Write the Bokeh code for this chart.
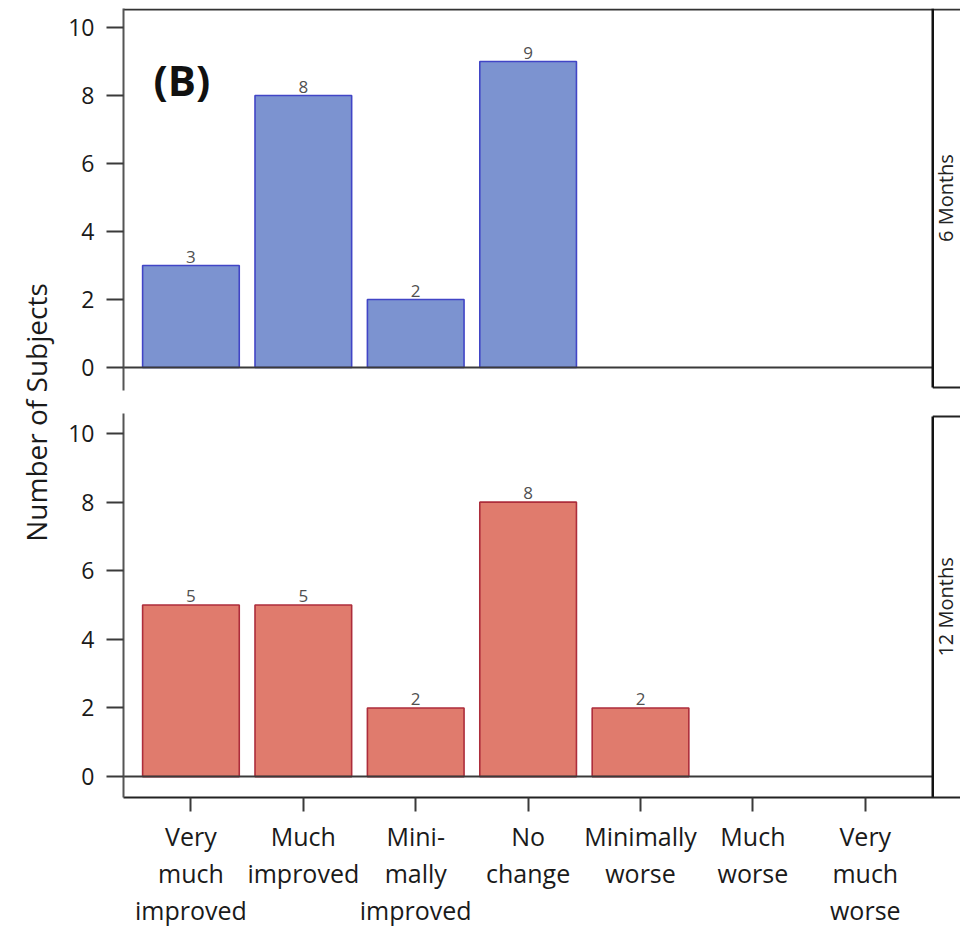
import math
from bokeh.plotting import figure
from bokeh.layouts import row, column
from bokeh.models import ColumnDataSource, Range1d, FixedTicker
from bokeh.core.properties import value
from bokeh.embed import file_html
from bokeh.resources import INLINE

# ---------------- data ----------------
categories = ["Very\nmuch\nimproved", "Much\nimproved", "Mini-\nmally\nimproved",
              "No\nchange", "Minimally\nworse", "Much\nworse", "Very\nmuch\nworse"]
positions = [1, 2, 3, 4, 5, 6, 7]
counts_6m = [3, 8, 2, 9, 0, 0, 0]
counts_12m = [5, 5, 2, 8, 2, 0, 0]
panel_names = ["6 Months", "12 Months"]
y_ticks = [0, 2, 4, 6, 8, 10]
panel_tag = "(B)"
y_title = "Number of Subjects"

FONT = "Open Sans"
AX = "#3a3a3a"


def make_panel(counts, fill, edge, strip, bottom):
    if bottom:
        yr = Range1d(-0.61, 10.585)
        fh, btop, bbot = 384, 5, 0
    else:
        yr = Range1d(-0.676, 10.56)
        fh, btop, bbot = 382, 8, 18
    p = figure(frame_width=837, frame_height=fh,
               x_range=Range1d(0.4, 7.847), y_range=yr,
               output_backend="svg", toolbar_location=None,
               x_axis_location="below" if bottom else None,
               min_border_left=63, min_border_right=0,
               min_border_top=btop, min_border_bottom=bbot,
               background_fill_color="white", border_fill_color="white")
    p.outline_line_color = None
    p.xgrid.visible = False
    p.ygrid.visible = False

    xs = [x for x, c in zip(positions, counts) if c > 0]
    ys = [c for c in counts if c > 0]
    src = ColumnDataSource(dict(x=xs, top=ys, lab=[str(c) for c in ys]))
    p.vbar(x="x", top="top", bottom=0, width=0.86, source=src,
           fill_color=fill, line_color=edge, line_width=1.6)
    p.text(x="x", y="top", text="lab", source=src, text_align="center",
           text_baseline="alphabetic", y_offset=-9,
           text_font=value(FONT), text_font_size="17px", text_color="#505050")

    # zero line across the panel
    p.segment(x0=[0.4], y0=[0], x1=[7.6], y1=[0], line_color=AX, line_width=2)
    # strip box at right
    if bottom:
        s_top, s_bot = 10.5, yr.start
        p.segment(x0=[7.6], y0=[s_top], x1=[7.847], y1=[s_top],
                  line_color="#222222", line_width=2)
    else:
        s_top, s_bot = yr.end, -0.59
        p.segment(x0=[0.4], y0=[10.53], x1=[7.847], y1=[10.53],
                  line_color="#333333", line_width=2)
        p.segment(x0=[7.6], y0=[s_bot], x1=[7.847], y1=[s_bot],
                  line_color="#222222", line_width=2)
    p.segment(x0=[7.6], y0=[s_bot], x1=[7.6], y1=[s_top],
              line_color="#111111", line_width=2.5)
    p.text(x=[7.713], y=[(s_top + s_bot) / 2], text=[strip], angle=math.pi / 2,
           text_align="center", text_baseline="middle",
           text_font=value(FONT), text_font_size="20px", text_color="#222222")

    # y axis
    p.yaxis.ticker = FixedTicker(ticks=y_ticks)
    p.yaxis.minor_tick_line_color = None
    p.yaxis.major_tick_out = 17
    p.yaxis.major_tick_in = 0
    p.yaxis.major_tick_line_width = 2
    p.yaxis.major_tick_line_color = AX
    p.yaxis.axis_line_width = 2
    p.yaxis.axis_line_color = "#555555"
    p.yaxis.major_label_standoff = 12
    p.yaxis.major_label_text_font = FONT
    p.yaxis.major_label_text_font_size = "23px"
    p.yaxis.major_label_text_color = "#1a1a1a"

    if bottom:
        p.xaxis.ticker = FixedTicker(ticks=positions)
        p.xaxis.major_label_overrides = {x: c for x, c in zip(positions, categories)}
        p.xaxis.minor_tick_line_color = None
        p.xaxis.major_tick_out = 14
        p.xaxis.major_tick_in = 0
        p.xaxis.major_tick_line_width = 2
        p.xaxis.major_tick_line_color = AX
        p.xaxis.axis_line_width = 2
        p.xaxis.axis_line_color = "#222222"
        p.xaxis.major_label_standoff = 7
        p.xaxis.major_label_text_font = FONT
        p.xaxis.major_label_text_font_size = "25px"
        p.xaxis.major_label_text_color = "#1a1a1a"
        p.xaxis.major_label_text_line_height = 1.1
        p.xaxis.major_label_orientation = "horizontal"
    else:
        p.text(x=[0.667], y=[8.47], text=[panel_tag], text_align="left",
               text_baseline="middle", text_font=value(FONT),
               text_font_style="bold", text_font_size="42px", text_color="#111111")
    return p


top = make_panel(counts_6m, "#7c93d0", "#4145c6", panel_names[0], False)
bot = make_panel(counts_12m, "#e07b6d", "#ad2d3b", panel_names[1], True)

lab = figure(width=60, height=928, x_range=Range1d(0, 60), y_range=Range1d(928, 0),
             output_backend="svg", toolbar_location=None,
             x_axis_location=None, y_axis_location=None,
             min_border_left=0, min_border_right=0, min_border_top=0, min_border_bottom=0)
lab.outline_line_color = None
lab.xgrid.visible = False
lab.ygrid.visible = False
lab.text(x=[35], y=[412], text=[y_title], angle=math.pi / 2, text_align="center",
         text_baseline="middle", text_font=value(FONT), text_font_size="28px",
         text_color="#1a1a1a")

layout = row(lab, column(top, bot, spacing=0), spacing=0)
open("out.html", "w").write(file_html(layout, INLINE))
